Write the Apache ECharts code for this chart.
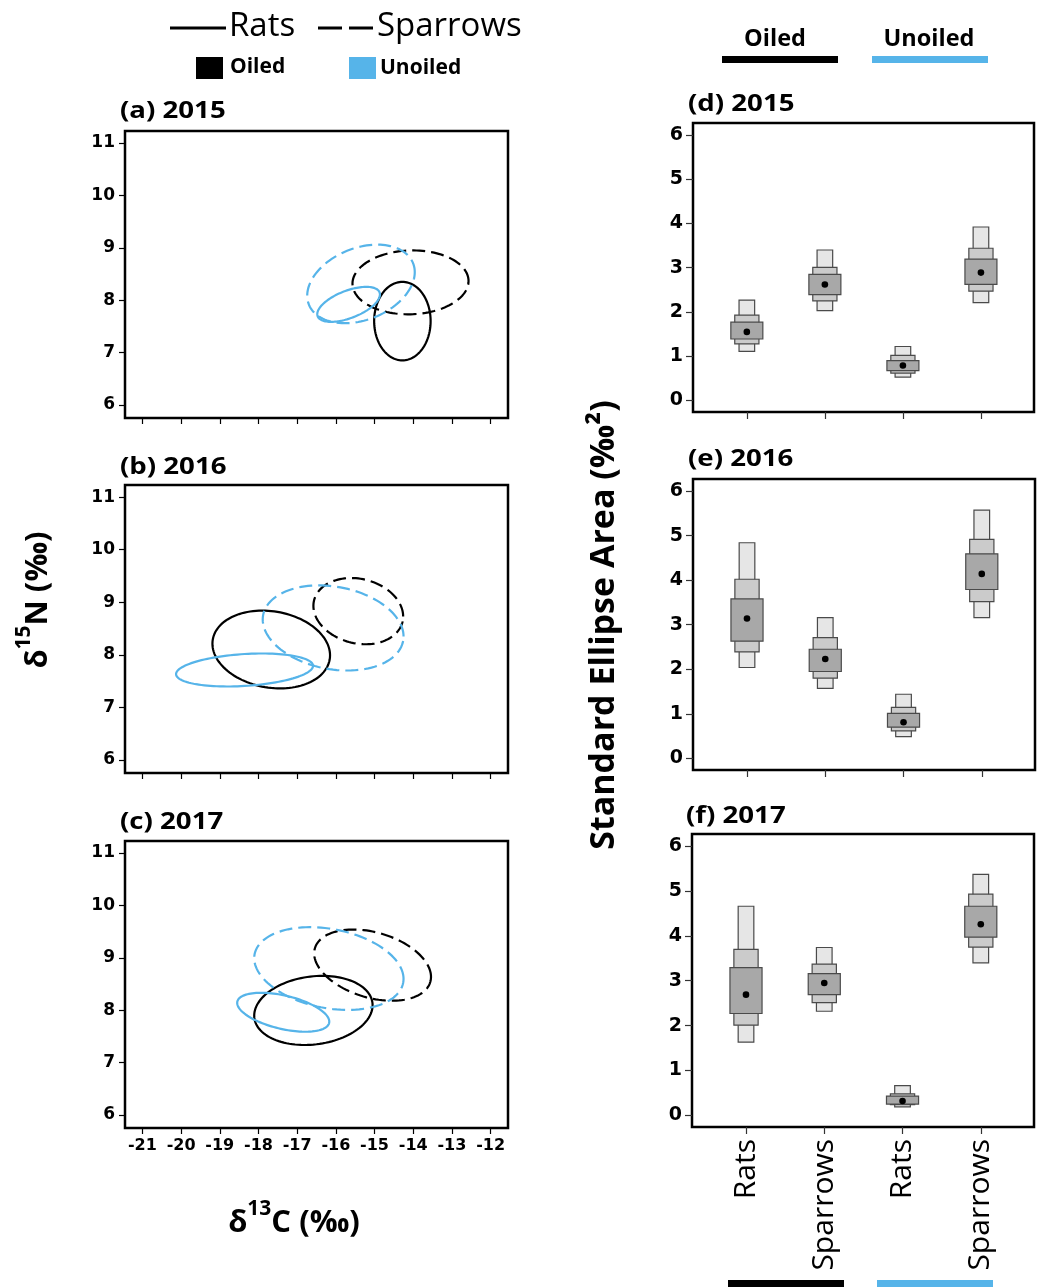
<!DOCTYPE html>
<html>
<head>
<meta charset="utf-8">
<script src="https://cdn.jsdelivr.net/npm/echarts@6/dist/echarts.min.js"></script>
<style>html,body{margin:0;padding:0;background:#fff}#c{width:1044px;height:1287px}</style>
</head>
<body>
<div id="c"></div>
<script>
// ---------- DATA ----------
// Standard ellipses: [centre d13C, centre d15N, half-width (d13C), half-height (d15N), correlation]
const ell2015_oiledRats      = [-14.28, 7.60, 0.73, 0.75, 0.00];
const ell2015_oiledSparrows  = [-14.07, 8.34, 1.50, 0.61, 0.04];
const ell2015_unoiledRats    = [-15.67, 7.92, 0.81, 0.334, 0.56];
const ell2015_unoiledSparrows= [-15.35, 8.31, 1.39, 0.75, 0.30];

const ell2016_oiledRats      = [-17.67, 8.10, 1.52, 0.74, -0.15];
const ell2016_oiledSparrows  = [-15.42, 8.83, 1.16, 0.63, -0.16];
const ell2016_unoiledRats    = [-18.36, 7.71, 1.77, 0.314, 0.25];
const ell2016_unoiledSparrows= [-16.07, 8.51, 1.82, 0.81, -0.20];

const ell2017_oiledRats      = [-16.58, 7.995, 1.53, 0.66, 0.15];
const ell2017_oiledSparrows  = [-15.05, 8.86, 1.51, 0.68, -0.33];
const ell2017_unoiledRats    = [-17.36, 7.96, 1.19, 0.372, -0.48];
const ell2017_unoiledSparrows= [-16.18, 8.795, 1.93, 0.79, -0.25];

const xTicksC = [-21, -20, -19, -18, -17, -16, -15, -14, -13, -12];
const yTicksN = [6, 7, 8, 9, 10, 11];

// Standard ellipse area posterior summaries (Oiled Rats, Oiled Sparrows, Unoiled Rats, Unoiled Sparrows)
const groupNames = ['Rats', 'Sparrows', 'Rats', 'Sparrows'];
const groupPos = [1, 2, 3, 4];
const seaTicks = [0, 1, 2, 3, 4, 5, 6];

const sea2015_mode = [1.55, 2.62, 0.79, 2.89];
const sea2015_ci95 = [[1.11, 2.27], [2.03, 3.40], [0.53, 1.22], [2.21, 3.92]];
const sea2015_ci75 = [[1.28, 1.93], [2.25, 3.01], [0.62, 1.02], [2.47, 3.44]];
const sea2015_ci50 = [[1.39, 1.77], [2.39, 2.85], [0.675, 0.90], [2.625, 3.195]];

const sea2016_mode = [3.14, 2.23, 0.81, 4.14];
const sea2016_ci95 = [[2.04, 4.84], [1.57, 3.16], [0.49, 1.44], [3.16, 5.57]];
const sea2016_ci75 = [[2.39, 4.02], [1.80, 2.71], [0.62, 1.145], [3.52, 4.915]];
const sea2016_ci50 = [[2.63, 3.58], [1.95, 2.45], [0.70, 1.01], [3.79, 4.59]];

const sea2017_mode = [2.69, 2.95, 0.32, 4.26];
const sea2017_ci95 = [[1.63, 4.66], [2.32, 3.74], [0.19, 0.66], [3.40, 5.37]];
const sea2017_ci75 = [[2.01, 3.70], [2.51, 3.37], [0.24, 0.48], [3.75, 4.93]];
const sea2017_ci50 = [[2.27, 3.29], [2.69, 3.16], [0.25, 0.43], [3.97, 4.66]];

// ---------- STYLE ----------
const BLUE = '#56b4e9';
const BLACK = '#000000';
const TICKFONT = 'DejaVu Sans';
const TFONT = 'Open Sans';

const leftGrids = [
  {left: 125, top: 131, width: 383, height: 287},
  {left: 125, top: 485, width: 383, height: 288},
  {left: 125, top: 841, width: 383, height: 287}
];
const rightGrids = [
  {left: 693, top: 123, width: 341, height: 289},
  {left: 693, top: 479, width: 342, height: 291},
  {left: 692, top: 834, width: 342, height: 293}
];

const grid = [];
const xAxis = [];
const yAxis = [];
const series = [];

function frame(g) {
  return Object.assign({show: true, borderColor: '#000', borderWidth: 2.5, backgroundColor: 'transparent'}, g);
}

function ellipseRender(color, dashed) {
  return function (params, api) {
    const cx = api.value(0), cy = api.value(1), sx = api.value(2), sy = api.value(3), rho = api.value(4);
    const k = Math.sqrt(1 - rho * rho);
    const pts = [];
    const N = 120;
    for (let i = 0; i < N; i++) {
      const t = 2 * Math.PI * i / N;
      pts.push(api.coord([cx + sx * Math.cos(t), cy + sy * (rho * Math.cos(t) + k * Math.sin(t))]));
    }
    return {
      type: 'polygon',
      shape: {points: pts},
      style: {fill: 'none', stroke: color, lineWidth: 2.2, lineDash: dashed ? [13, 6] : null}
    };
  };
}

const ellYears = [
  [ell2015_oiledRats, ell2015_oiledSparrows, ell2015_unoiledRats, ell2015_unoiledSparrows],
  [ell2016_oiledRats, ell2016_oiledSparrows, ell2016_unoiledRats, ell2016_unoiledSparrows],
  [ell2017_oiledRats, ell2017_oiledSparrows, ell2017_unoiledRats, ell2017_unoiledSparrows]
];
const ellStyles = [[BLACK, false], [BLACK, true], [BLUE, false], [BLUE, true]];

ellYears.forEach((year, i) => {
  grid.push(frame(leftGrids[i]));
  const gi = grid.length - 1;
  xAxis.push({
    type: 'value', gridIndex: gi, min: -21.45, max: -11.55,
    splitLine: {show: false}, axisLine: {show: false, onZero: false},
    axisTick: {show: true, length: 6, lineStyle: {color: '#000', width: 1.2}, customValues: xTicksC},
    axisLabel: {show: i === 2, customValues: xTicksC, margin: 10, color: '#000',
      fontFamily: TICKFONT, fontWeight: 'bold', fontSize: 16}
  });
  yAxis.push({
    type: 'value', gridIndex: gi, min: 5.75, max: 11.23,
    splitLine: {show: false}, axisLine: {show: false, onZero: false},
    axisTick: {show: true, length: 6, lineStyle: {color: '#000', width: 1.2}, customValues: yTicksN},
    axisLabel: {show: true, customValues: yTicksN, margin: 10, color: '#000',
      fontFamily: TICKFONT, fontWeight: 'bold', fontSize: 17}
  });
  year.forEach((e, j) => {
    series.push({
      type: 'custom', xAxisIndex: gi, yAxisIndex: gi, silent: true,
      renderItem: ellipseRender(ellStyles[j][0], ellStyles[j][1]),
      encode: {x: 0, y: 1},
      data: [e]
    });
  });
});

function boxRender(params, api) {
  const x = api.value(0);
  const unit = api.size([1, 0])[0];
  const levels = [
    [api.value(1), api.value(2), 0.20, '#e6e6e6'],
    [api.value(3), api.value(4), 0.31, '#cbcbcb'],
    [api.value(5), api.value(6), 0.41, '#a8a8a8']
  ];
  const children = levels.map(l => {
    const pTop = api.coord([x, l[1]]);
    const pBot = api.coord([x, l[0]]);
    const w = unit * l[2];
    return {
      type: 'rect',
      shape: {x: pTop[0] - w / 2, y: pTop[1], width: w, height: pBot[1] - pTop[1]},
      style: {fill: l[3], stroke: '#4a4a4a', lineWidth: 1.2}
    };
  });
  const m = api.coord([x, api.value(7)]);
  children.push({type: 'circle', shape: {cx: m[0], cy: m[1], r: 3.3}, style: {fill: '#000'}});
  return {type: 'group', children: children};
}

const seaYears = [
  [sea2015_ci95, sea2015_ci75, sea2015_ci50, sea2015_mode],
  [sea2016_ci95, sea2016_ci75, sea2016_ci50, sea2016_mode],
  [sea2017_ci95, sea2017_ci75, sea2017_ci50, sea2017_mode]
];

seaYears.forEach((yr, i) => {
  grid.push(frame(rightGrids[i]));
  const gi = grid.length - 1;
  xAxis.push({
    type: 'value', gridIndex: gi, min: 0.31, max: 4.68,
    splitLine: {show: false}, axisLine: {show: false, onZero: false},
    axisTick: {show: true, length: 7, lineStyle: {color: '#333', width: 1.2}, customValues: groupPos},
    axisLabel: {show: i === 2, customValues: groupPos, rotate: 90, margin: 12, color: '#000',
      fontFamily: TFONT, fontSize: 30, formatter: v => groupNames[Math.round(v) - 1]}
  });
  yAxis.push({
    type: 'value', gridIndex: gi, min: -0.26, max: 6.27,
    splitLine: {show: false}, axisLine: {show: false, onZero: false},
    axisTick: {show: true, length: 7, lineStyle: {color: '#333', width: 1.2}, customValues: seaTicks},
    axisLabel: {show: true, customValues: seaTicks, margin: 10, color: '#000',
      fontFamily: TICKFONT, fontWeight: 'bold', fontSize: 19}
  });
  const data = groupPos.map((p, k) => [p, yr[0][k][0], yr[0][k][1], yr[1][k][0], yr[1][k][1], yr[2][k][0], yr[2][k][1], yr[3][k]]);
  series.push({
    type: 'custom', xAxisIndex: gi, yAxisIndex: gi, silent: true,
    renderItem: boxRender, encode: {x: 0, y: [1, 2]}, data: data
  });
});

// ---------- TEXT & DECORATION ----------
function txt(text, x, y, font, align, opts) {
  return Object.assign({
    type: 'text', x: x, y: y,
    style: {text: text, font: font, fill: '#000', textAlign: align || 'left', textVerticalAlign: 'middle'}
  }, opts || {});
}
const panelFont = 'bold 23px "' + TFONT + '"';
const wide = {scaleX: 1.2};
const graphic = [
  txt('(a) 2015', 120, 111, panelFont, 'left', wide),
  txt('(b) 2016', 120, 467, panelFont, 'left', wide),
  txt('(c) 2017', 120, 822, panelFont, 'left', wide),
  txt('(d) 2015', 688, 104, panelFont, 'left', wide),
  txt('(e) 2016', 688, 459, panelFont, 'left', wide),
  txt('(f) 2017', 686, 816, panelFont, 'left', wide),
  // left legend
  {type: 'line', shape: {x1: 170, y1: 28, x2: 226, y2: 28}, style: {stroke: '#000', lineWidth: 3}},
  txt('Rats', 229, 27, '33px "' + TFONT + '"'),
  {type: 'line', shape: {x1: 318, y1: 28, x2: 374, y2: 28}, style: {stroke: '#000', lineWidth: 3, lineDash: [24, 7]}},
  txt('Sparrows', 377, 27, '33px "' + TFONT + '"'),
  {type: 'rect', shape: {x: 196, y: 57, width: 27, height: 22}, style: {fill: '#000'}},
  txt('Oiled', 230, 67, 'bold 21px "' + TFONT + '"'),
  {type: 'rect', shape: {x: 349, y: 57, width: 27, height: 22}, style: {fill: BLUE}},
  txt('Unoiled', 380, 68, 'bold 21px "' + TFONT + '"'),
  // right legend
  txt('Oiled', 775, 39, 'bold 23.5px "' + TFONT + '"', 'center'),
  {type: 'rect', shape: {x: 722, y: 56, width: 116, height: 7}, style: {fill: '#000'}},
  txt('Unoiled', 929, 39, 'bold 23.5px "' + TFONT + '"', 'center'),
  {type: 'rect', shape: {x: 872, y: 56, width: 116, height: 7}, style: {fill: BLUE}},
  // bottom group bars
  {type: 'rect', shape: {x: 728, y: 1280, width: 116, height: 8}, style: {fill: '#000'}},
  {type: 'rect', shape: {x: 877, y: 1280, width: 116, height: 8}, style: {fill: BLUE}},
  // axis titles
  {type: 'text', x: 34, y: 600, rotation: Math.PI / 2,
    style: {text: '{a|δ}{s|15}{a|N (‰)}', textAlign: 'center', textVerticalAlign: 'middle', fill: '#000',
      rich: {a: {font: 'bold 31px "' + TFONT + '"', lineHeight: 40, verticalAlign: 'bottom'},
             s: {font: 'bold 21px "' + TFONT + '"', lineHeight: 40, verticalAlign: 'top'}}}},
  {type: 'text', x: 294, y: 1219,
    style: {text: '{a|δ}{s|13}{a|C (‰)}', textAlign: 'center', textVerticalAlign: 'middle', fill: '#000',
      rich: {a: {font: 'bold 31px "' + TFONT + '"', lineHeight: 40, verticalAlign: 'bottom'},
             s: {font: 'bold 21px "' + TFONT + '"', lineHeight: 40, verticalAlign: 'top'}}}},
  {type: 'text', x: 604, y: 625, rotation: Math.PI / 2,
    style: {text: 'Standard Ellipse Area (‰²)', textAlign: 'center', textVerticalAlign: 'middle', fill: '#000',
      font: 'bold 34px "' + TFONT + '"'}}
];

const chart = echarts.init(document.getElementById('c'), null, {renderer: 'canvas'});
chart.setOption({
  animation: false,
  backgroundColor: '#fff',
  grid: grid, xAxis: xAxis, yAxis: yAxis, series: series, graphic: graphic
});
</script>
</body>
</html>
